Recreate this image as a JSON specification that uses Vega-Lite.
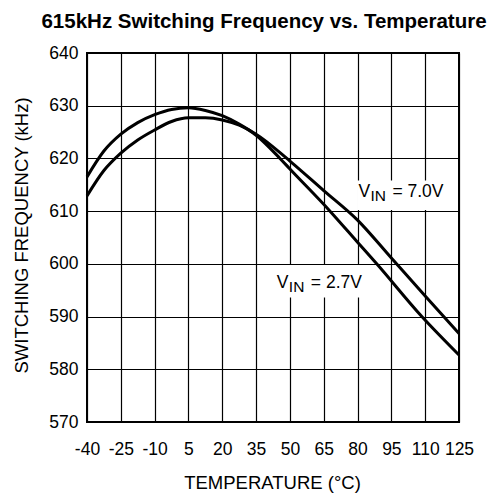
{
  "$schema": "https://vega.github.io/schema/vega-lite/v6.json",
  "width": 372,
  "height": 369,
  "autosize": {"type": "none"},
  "padding": {"left": 87, "top": 53, "right": 41, "bottom": 71},
  "background": "white",
  "config": {
    "font": "Liberation Sans",
    "view": {"stroke": "#000", "strokeWidth": 2},
    "axis": {
      "domain": false,
      "ticks": false,
      "tickSize": 0,
      "grid": true,
      "gridColor": "#000",
      "gridWidth": 1.2,
      "gridOpacity": 1,
      "labelColor": "#000",
      "labelFontSize": 17.5,
      "labelFont": "Liberation Sans",
      "labelOverlap": false,
      "labelFlush": false,
      "titleColor": "#000",
      "titleFont": "Liberation Sans",
      "titleFontSize": 18.5,
      "titleFontWeight": "normal"
    }
  },
  "title": {
    "text": "615kHz Switching Frequency vs. Temperature",
    "font": "Liberation Sans",
    "fontSize": 20.5,
    "fontWeight": "bold",
    "color": "#000",
    "anchor": "middle",
    "frame": "group",
    "dx": -9,
    "dy": 29,
    "offset": 25,
    "baseline": "alphabetic"
  },
  "datasets": {
    "curves": [
      {"vin": "2.7V", "T": -40, "f": 616.5},
      {"vin": "2.7V", "T": -32.5, "f": 621.4},
      {"vin": "2.7V", "T": -25, "f": 624.6},
      {"vin": "2.7V", "T": -17.5, "f": 626.8},
      {"vin": "2.7V", "T": -10, "f": 628.3},
      {"vin": "2.7V", "T": -2.5, "f": 629.3},
      {"vin": "2.7V", "T": 5, "f": 629.6},
      {"vin": "2.7V", "T": 12.5, "f": 629.1},
      {"vin": "2.7V", "T": 20, "f": 628.1},
      {"vin": "2.7V", "T": 27.5, "f": 626.5},
      {"vin": "2.7V", "T": 35, "f": 624.4},
      {"vin": "2.7V", "T": 45.6, "f": 620.0},
      {"vin": "2.7V", "T": 50, "f": 618.0},
      {"vin": "2.7V", "T": 67.8, "f": 610.0},
      {"vin": "2.7V", "T": 80, "f": 604.1},
      {"vin": "2.7V", "T": 88.5, "f": 600.0},
      {"vin": "2.7V", "T": 108.5, "f": 590.0},
      {"vin": "2.7V", "T": 125, "f": 582.7},
      {"vin": "7.0V", "T": -40, "f": 612.9},
      {"vin": "7.0V", "T": -32.5, "f": 617.7},
      {"vin": "7.0V", "T": -25, "f": 621.0},
      {"vin": "7.0V", "T": -17.5, "f": 623.5},
      {"vin": "7.0V", "T": -10, "f": 625.4},
      {"vin": "7.0V", "T": -2.5, "f": 627.0},
      {"vin": "7.0V", "T": 5, "f": 627.7},
      {"vin": "7.0V", "T": 12.5, "f": 627.7},
      {"vin": "7.0V", "T": 20, "f": 627.3},
      {"vin": "7.0V", "T": 27.5, "f": 626.3},
      {"vin": "7.0V", "T": 35, "f": 624.6},
      {"vin": "7.0V", "T": 50, "f": 619.5},
      {"vin": "7.0V", "T": 65, "f": 613.9},
      {"vin": "7.0V", "T": 80, "f": 608.3},
      {"vin": "7.0V", "T": 95, "f": 601.1},
      {"vin": "7.0V", "T": 110, "f": 593.9},
      {"vin": "7.0V", "T": 125, "f": 586.8}
    ],
    "boxes": [
      {"T": 79.8, "T2": 122, "f": 610.2, "f2": 615.8},
      {"T": 43.4, "T2": 85, "f": 593.6, "f2": 599.8}
    ],
    "labels": [
      {"T": 80.4, "f": 612.6, "part": "V", "t": "V"},
      {"T": 80.4, "f": 612.6, "part": "IN", "t": "IN"},
      {"T": 80.4, "f": 612.6, "part": "EQ", "t": "= 7.0V"},
      {"T": 44.2, "f": 595.4, "part": "V", "t": "V"},
      {"T": 44.2, "f": 595.4, "part": "IN", "t": "IN"},
      {"T": 44.2, "f": 595.4, "part": "EQ", "t": "= 2.7V"}
    ]
  },
  "encoding": {
    "x": {
      "field": "T",
      "type": "quantitative",
      "scale": {"domain": [-40, 125], "nice": false, "zero": false},
      "axis": {
        "values": [-40, -25, -10, 5, 20, 35, 50, 65, 80, 95, 110, 125],
        "labelExpr": "'' + datum.value",
        "labelPadding": 18,
        "title": "TEMPERATURE (°C)",
        "titleX": 185,
        "titleY": 66,
        "titleBaseline": "alphabetic",
        "titleAlign": "center"
      }
    },
    "y": {
      "field": "f",
      "type": "quantitative",
      "scale": {"domain": [570, 640], "nice": false, "zero": false},
      "axis": {
        "values": [570, 580, 590, 600, 610, 620, 630, 640],
        "labelPadding": 9,
        "title": "SWITCHING FREQUENCY (kHz)",
        "titleX": -60,
        "titleY": 182,
        "titleAngle": -90,
        "titleAlign": "center",
        "titleBaseline": "alphabetic"
      }
    }
  },
  "layer": [
    {
      "data": {"name": "boxes"},
      "mark": {"type": "rect", "fill": "white", "stroke": null},
      "encoding": {"x2": {"field": "T2"}, "y2": {"field": "f2"}}
    },
    {
      "data": {"name": "curves"},
      "mark": {"type": "line", "color": "#000", "strokeWidth": 3, "interpolate": "monotone"},
      "encoding": {"detail": {"field": "vin"}}
    },
    {
      "data": {"name": "labels"},
      "transform": [{"filter": "datum.part === 'V'"}],
      "mark": {"type": "text", "align": "left", "baseline": "alphabetic", "fontSize": 17.5, "color": "#000", "dx": 0},
      "encoding": {"text": {"field": "t"}}
    },
    {
      "data": {"name": "labels"},
      "transform": [{"filter": "datum.part === 'IN'"}],
      "mark": {"type": "text", "align": "left", "baseline": "alphabetic", "fontSize": 15.5, "color": "#000", "dx": 12, "dy": 4},
      "encoding": {"text": {"field": "t"}}
    },
    {
      "data": {"name": "labels"},
      "transform": [{"filter": "datum.part === 'EQ'"}],
      "mark": {"type": "text", "align": "left", "baseline": "alphabetic", "fontSize": 17.5, "color": "#000", "dx": 34},
      "encoding": {"text": {"field": "t"}}
    }
  ]
}
